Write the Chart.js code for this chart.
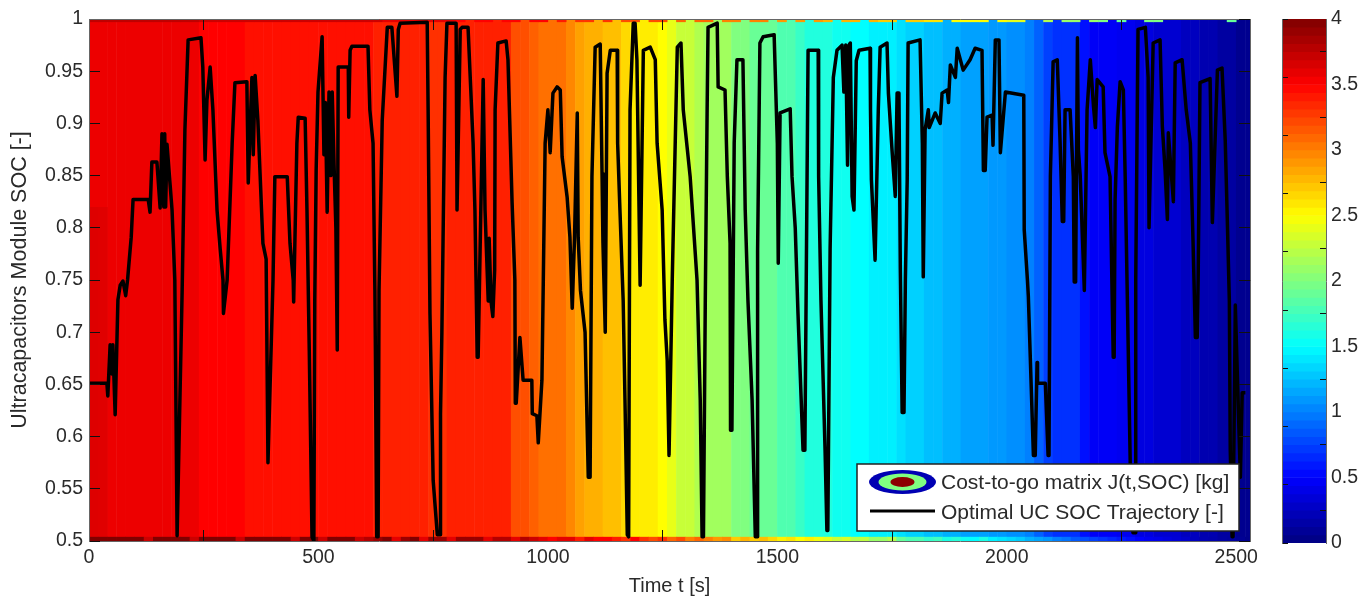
<!DOCTYPE html>
<html><head><meta charset="utf-8">
<style>html,body{margin:0;padding:0;background:#fff;overflow:hidden}
#wrap{position:relative;width:1360px;height:596px}
canvas{position:absolute;top:0}
#main{left:0}#bar{left:1262px}</style>
<script src="https://cdn.jsdelivr.net/npm/chart.js@4/dist/chart.umd.min.js"></script>
</head><body><div id="wrap"><canvas id="main" width="1360" height="596"></canvas><canvas id="bar" width="98" height="596"></canvas></div>
<script>
const xTicks=[0,500,1000,1500,2000,2500];
const yTicks=[0.5,0.55,0.6,0.65,0.7,0.75,0.8,0.85,0.9,0.95,1];
const cTicks=[0,0.5,1,1.5,2,2.5,3,3.5,4];
const xLabel='Time t [s]';
const yLabel='Ultracapacitors Module SOC [-]';
const legendLabels=['Cost-to-go matrix J(t,SOC) [kg]','Optimal UC SOC Trajectory [-]'];
const binStart=10, binStep=20;
const costMid=[3.57,3.57,3.57,3.57,3.57,3.57,3.57,3.57,3.57,3.57,3.57,3.57,
3.5,3.5,3.5,3.5,3.5,
3.44,3.44,3.44,3.44,3.44,3.44,3.44,3.44,3.44,3.44,3.44,3.44,3.44,3.44,
3.375,3.375,3.375,3.375,3.375,3.375,3.31,3.31,
3.375,3.375,3.375,3.375,3.375,3.375,3.375,
3.19,3.19,3.125,3.06,3.06,3.06,2.97,2.87,2.81,2.81,2.75,2.75,2.65,2.57,2.57,2.57,2.5,2.41,
2.28,2.28,2.19,2.13,2.13,2.13,2.0,2.0,1.91,1.91,1.91,1.81,1.81,1.72,1.63,1.63,1.63,1.56,1.56,1.5,1.5,
1.44,1.44,1.44,1.38,1.32,1.32,1.25,1.25,1.19,1.19,1.13,1.13,1.13,1.1,1.1,1.06,1.06,1.0,0.88,0.75,
0.69,0.69,0.69,0.56,0.47,0.47,0.47,0.44,0.44,0.38,0.38,0.32,0.32,0.32,0.25,0.25,0.19,0.19,0.13,0.13,0.06,0.06];
const costLowLeft=[3.63,3.62];
const costLowSoc=[0.5,0.82];
const costBottom=[4,4,4,4,4,4,3.7,4,4,4,
4,3.7,4,4,4,4,3.7,4,4,4,
4,4,3.7,4,4,3.7,4,4,4,3.7,
3.8,3.9,4,3.6,3.9,4,3.6,3.9,3.9,3.6,
3.9,3.9,3.9,3.6,3.8,3.8,3.6,3.8,3.7,3.6,
3.5,3.6,3.6,3.4,3.6,3.5,3.5,3.4,3.3,3.5,
3.3,3.2,3.3,3.1,3.2,3.0,3.1,3.0,2.9,2.95,
2.7,2.8,2.7,2.75,2.65,2.55,2.6,2.5,2.55,2.45,
2.4,2.3,2.35,2.2,2.25,2.1,2.1,2.2,1.9,1.8,
1.8,1.7,1.75,1.6,1.65,1.55,1.5,1.6,1.45,1.4,
1.35,1.3,1.2,1.15,1.1,1.0,0.95,0.85,0.8,0.75,
0.7,0.65,0.6,0.55,0.5,0.45,0.42,0.38,0.34,0.3,
0.25,0.2,0.18,0.14,0.12,0.08,0.05];
const costTop=[3.75,3.75,3.75,3.75,3.75,3.75,3.75,3.75,3.75,3.75,
3.75,3.75,3.7,3.7,3.7,3.7,3.7,3.7,3.7,3.7,
3.7,3.7,3.7,3.7,3.7,3.7,3.7,3.7,3.7,3.7,
3.7,3.7,3.6,3.6,3.6,3.6,3.6,3.6,3.6,3.6,
3.5,null,3.5,3.5,null,3.5,3.5,null,3.5,3.5,
null,3.4,null,3.3,3.3,null,3.3,null,3.2,3.2,
null,3.2,3.2,null,3.1,null,3.1,3.1,null,3.0,
3.0,null,3.0,3.0,null,2.9,null,2.9,null,2.9,
2.8,null,2.8,2.8,null,2.8,2.7,2.7,null,2.7,
2.7,2.6,2.6,null,2.5,2.5,2.5,2.5,null,2.5,
2.4,2.4,null,null,2.2,null,2.1,2.1,null,2.1,
2.0,null,1.9,null,null,2.0,2.0,null,null,null,
null,null,null,null,1.9,null,null];
const socTime=[0,39,41,46,50,52,57,63,68,74,80,84,92,96,129,133,137,148,155,159,163,165,167,170,181,187,192,
203,209,216,244,248,253,257,264,270,279,286,292,293,301,312,318,344,347,355,358,362,368,379,386,390,
401,405,432,438,445,446,453,456,471,475,480,486,490,492,495,499,508,512,515,519,523,527,530,534,538,541,543,
565,566,569,573,608,612,619,623,627,630,632,639,650,660,671,674,678,737,739,743,750,759,765,766,769,776,780,800,802,809,813,826,
837,841,846,848,859,863,870,872,876,880,884,885,891,909,913,922,928,929,931,939,946,965,966,976,979,987,990,994,1000,1005,1011,1020,1027,1031,1042,1048,1053,1058,1064,1066,1071,1081,1088,1092,1096,1103,1114,1118,1120,1125,1129,1136,1151,1152,1157,1164,1168,1173,1176,1179,1186,1190,1194,1201,1208,1223,1234,1238,1249,1255,1260,1264,1266,1271,1282,1290,1295,1310,1325,1332,1336,1339,1343,1347,1349,1369,1371,1386,1391,1397,1398,1401,1406,1412,1425,1430,1436,1445,1452,1456,1457,1462,1469,1493,1500,1502,1506,1528,1532,1539,1545,1556,1560,1563,1567,1589,1590,1595,1604,1608,1610,1615,1622,1630,1641,1645,1649,1653,1656,1659,1663,1667,1672,1678,1702,1703,1705,1713,1720,1724,1739,1742,1750,1757,1761,1765,1768,1772,1776,1779,1783,1785,1811,1816,1818,1822,1829,1831,1844,1855,1859,1870,1873,1877,1888,1892,1905,1920,1931,1946,1949,1953,1957,1968,1970,1975,1983,1986,1997,2037,2038,2045,2047,2058,2062,2066,2067,2084,2090,2092,2095,2101,2110,2116,2121,2124,2127,2138,2145,2147,2150,2154,2156,2160,2169,2175,2182,2189,2193,2197,2210,2214,2225,2232,2234,2236,2241,2247,2254,2258,2262,2269,2275,2280,2281,2286,2302,2308,2310,2319,2334,2339,2345,2350,2352,2363,2367,2382,2391,2400,2406,2411,2415,2417,2421,2443,2448,2459,2469,2476,2480,2485,2487,2491,2493,2498,2504,2509,2513,2520];
const socValue=[0.651,0.651,0.639,0.688,0.66,0.688,0.621,0.731,0.745,0.749,0.735,0.75,0.791,0.827,0.827,0.815,0.863,0.863,0.819,0.89,0.82,0.89,0.82,0.88,0.817,0.75,0.505,
0.74,0.894,0.98,0.982,0.954,0.865,0.922,0.954,0.913,0.817,0.779,0.75,0.718,0.75,0.881,0.939,0.94,0.843,0.944,0.87,0.946,0.903,0.785,0.77,0.575,
0.75,0.849,0.849,0.785,0.75,0.729,0.881,0.906,0.905,0.817,0.683,0.504,0.5,0.731,0.855,0.93,0.983,0.87,0.92,0.815,0.93,0.85,0.93,0.86,0.8,0.683,0.954,
0.954,0.906,0.97,0.974,0.974,0.913,0.881,0.74,0.504,0.504,0.74,0.903,0.992,0.992,0.926,0.99,0.996,0.997,0.913,0.718,0.558,0.506,0.506,0.622,0.7,0.944,0.996,0.996,0.817,0.99,0.992,0.992,
0.881,0.817,0.676,0.676,0.942,0.817,0.73,0.79,0.73,0.715,0.76,0.913,0.977,0.979,0.961,0.824,0.75,0.632,0.632,0.695,0.654,0.654,0.622,0.62,0.594,0.654,0.75,0.881,0.913,0.872,0.929,0.935,0.932,0.868,0.829,0.791,0.723,0.79,0.91,0.791,0.74,0.7,0.561,0.561,0.849,0.973,0.976,0.852,0.785,0.7,0.948,0.97,0.97,0.881,0.817,0.731,0.635,0.506,0.504,0.913,0.996,0.996,0.961,0.745,0.97,0.973,0.961,0.881,0.817,0.712,0.673,0.582,0.582,0.75,0.973,0.977,0.913,0.849,0.75,0.635,0.504,0.504,0.731,0.913,0.992,0.996,0.935,0.932,0.849,0.785,0.606,0.606,0.881,0.961,0.961,0.817,0.73,0.635,0.504,0.504,0.778,0.977,0.983,0.985,0.881,0.766,0.91,0.914,0.849,0.8,0.718,0.587,0.587,0.75,0.97,0.97,0.849,0.731,0.587,0.51,0.51,0.78,0.944,0.97,0.975,0.93,0.975,0.86,0.975,0.977,0.83,0.817,0.96,0.97,0.972,0.913,0.846,0.769,0.913,0.973,0.977,0.929,0.874,0.83,0.929,0.929,0.76,0.623,0.623,0.75,0.846,0.977,0.98,0.881,0.753,0.894,0.913,0.896,0.91,0.9,0.929,0.932,0.92,0.956,0.944,0.972,0.951,0.961,0.972,0.97,0.855,0.855,0.906,0.908,0.879,0.98,0.98,0.872,0.93,0.927,0.798,0.75,0.734,0.582,0.582,0.671,0.651,0.651,0.582,0.582,0.849,0.959,0.961,0.884,0.806,0.806,0.913,0.913,0.849,0.748,0.748,0.982,0.875,0.85,0.74,0.913,0.961,0.916,0.896,0.942,0.935,0.872,0.849,0.676,0.676,0.827,0.897,0.94,0.932,0.849,0.75,0.575,0.508,0.508,0.75,0.99,0.992,0.944,0.8,0.977,0.98,0.897,0.855,0.808,0.891,0.825,0.958,0.961,0.913,0.881,0.785,0.695,0.695,0.75,0.939,0.943,0.805,0.951,0.953,0.884,0.817,0.73,0.587,0.504,0.504,0.726,0.635,0.561,0.642,0.642];
const barLevels=[];for(let i=0;i<64;i++)barLevels.push((i+0.5)/16);

const C=v=>Math.max(0,Math.min(1,v));
function jet(c){const f=c/4;
 const r=C(Math.min(4*f-1.5,-4*f+4.5)),g=C(Math.min(4*f-0.5,-4*f+3.5)),b=C(Math.min(4*f+0.5,-4*f+2.5));
 return `rgb(${Math.round(r*255)},${Math.round(g*255)},${Math.round(b*255)})`;}
const txt='#2a2a2a', FF='"Liberation Sans",Arial,sans-serif';
const band=(vals,lo,hi,order)=>{const d=[],c=[];vals.forEach((v,i)=>{if(v!==null){d.push({x:binStart+i*binStep,y:[lo,hi]});c.push(jet(v));}});
 return {type:'bar',data:d,backgroundColor:c,borderWidth:0,grouped:false,barPercentage:1.06,categoryPercentage:1,order};};
const noPad=s=>{s.paddingTop=0;s.paddingBottom=0;s.paddingLeft=0;s.paddingRight=0;};
const fixedW=w=>s=>{s.width=w;noPad(s);}, fixedH=h=>s=>{s.height=h;noPad(s);};
const tickAxis={border:{color:'#666',z:2},grid:{drawOnChartArea:false,drawTicks:true,tickLength:-11,color:'#111',z:2}};

const legendPlugin={id:'matlabLegend',afterDraw(ch){const x=ch.ctx;x.save();
 x.fillStyle='#fff';x.strokeStyle='#222';x.lineWidth=1.5;x.fillRect(857,464,382,67);x.strokeRect(857,464,382,67);
 const e=(rx,ry,col)=>{x.fillStyle=col;x.beginPath();x.ellipse(902.5,482,rx,ry,0,0,Math.PI*2);x.fill();};
 e(33.5,12,jet(0.2));e(24,8.5,jet(2));e(12,5,jet(3.95));
 x.strokeStyle='#000';x.lineWidth=3;x.beginPath();x.moveTo(870,511);x.lineTo(935,511);x.stroke();
 x.fillStyle=txt;x.font='21px '+FF;x.textBaseline='middle';x.textAlign='left';
 x.fillText(legendLabels[0],941,483);x.fillText(legendLabels[1],941,513);x.restore();}};

new Chart(document.getElementById('main'),{
 type:'bar',
 data:{datasets:[
  {type:'line',data:socTime.map((t,i)=>({x:t,y:socValue[i]})),borderColor:'#000',borderWidth:3.5,pointRadius:0,tension:0,borderJoinStyle:'round',order:0},
  band(costBottom,0.5,0.504,1),
  band(costTop,0.997,1,1),
  band(costLowLeft,costLowSoc[0],costLowSoc[1],2),
  band(costMid,0.5,1,3)
 ]},
 options:{responsive:false,animation:false,events:[],
  layout:{padding:{top:19,right:110,left:0,bottom:0}},
  plugins:{legend:{display:false},tooltip:{enabled:false}},
  scales:{
   x:{type:'linear',min:0,max:2530,offset:false,position:'bottom',...tickAxis,afterFit:fixedH(55),
      afterBuildTicks:s=>{s.ticks=xTicks.map(v=>({value:v}));},
      ticks:{color:txt,font:{size:19.5,family:FF},padding:16,maxRotation:0,autoSkip:false,callback:v=>String(v)},
      title:{display:true,text:xLabel,color:txt,font:{size:20,family:FF},padding:{top:0,bottom:-2}}},
   y:{type:'linear',min:0.5,max:1,position:'left',...tickAxis,afterFit:fixedW(89),
      afterBuildTicks:s=>{s.ticks=yTicks.map(v=>({value:v}));},
      ticks:{color:txt,font:{size:19.5,family:FF},padding:17,autoSkip:false,callback:v=>String(v)},
      title:{display:true,text:yLabel,color:txt,font:{size:21.5,family:FF},padding:{top:7,bottom:0}}},
   x2:{type:'linear',min:0,max:2530,offset:false,position:'top',...tickAxis,afterFit:fixedH(0),
      afterBuildTicks:s=>{s.ticks=xTicks.map(v=>({value:v}));},ticks:{display:false}},
   y2:{type:'linear',min:0.5,max:1,position:'right',...tickAxis,afterFit:fixedW(0),
      afterBuildTicks:s=>{s.ticks=yTicks.map(v=>({value:v}));},ticks:{display:false}}
  }},
 plugins:[legendPlugin]
});

const barAxis={border:{color:'#666',z:2},grid:{drawOnChartArea:false,drawTicks:true,tickLength:-6,color:'#111',z:2}};
new Chart(document.getElementById('bar'),{
 type:'bar',
 data:{datasets:[{data:barLevels.map(v=>({x:[0,1],y:v})),backgroundColor:barLevels.map(jet),borderWidth:0,barPercentage:1.08,categoryPercentage:1}]},
 options:{indexAxis:'y',responsive:false,animation:false,events:[],
  layout:{padding:{top:19,left:20,right:0,bottom:53}},
  plugins:{legend:{display:false},tooltip:{enabled:false}},
  scales:{
   x:{type:'linear',display:false,min:0,max:1},
   y:{type:'linear',min:0,max:4,offset:false,position:'right',...barAxis,afterFit:fixedW(34),
      afterBuildTicks:s=>{s.ticks=cTicks.map(v=>({value:v}));},
      ticks:{color:txt,font:{size:19.5,family:FF},padding:11,autoSkip:false,callback:v=>String(v)}},
   y2:{type:'linear',min:0,max:4,position:'left',...barAxis,afterFit:fixedW(0),
      afterBuildTicks:s=>{s.ticks=cTicks.map(v=>({value:v}));},ticks:{display:false}}
  }}
});
</script></body></html>
